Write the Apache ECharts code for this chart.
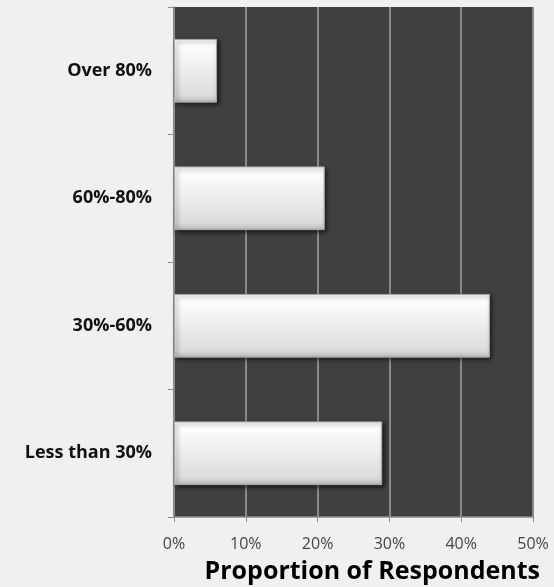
<!DOCTYPE html>
<html>
<head>
<meta charset="utf-8">
<script src="https://cdn.jsdelivr.net/npm/echarts@6/dist/echarts.min.js"></script>
<style>
  html, body { margin: 0; padding: 0; background: #f0f0f0; }
  #chart { width: 554px; height: 587px; }
</style>
</head>
<body>
<div id="chart"></div>
<script>
// Share of respondents in each range (bottom to top on the chart)
const categories = ['Less than 30%', '30%-60%', '60%-80%', 'Over 80%'];
const shares = [29, 44, 21, 6];
const axisTitle = 'Proportion of Respondents';

const chart = echarts.init(document.getElementById('chart'));

chart.setOption({
  backgroundColor: '#f0f0f0',
  animation: false,
  grid: {
    left: 174, top: 7, width: 359, height: 510,
    show: true, backgroundColor: '#404040', borderWidth: 0
  },
  xAxis: {
    type: 'value', min: 0, max: 50, interval: 10,
    axisLine: { show: true, lineStyle: { color: '#8c8c8c', width: 1.5 } },
    axisTick: { show: true, length: 5, lineStyle: { color: '#8c8c8c' } },
    splitLine: { show: true, lineStyle: { color: '#8a8a8a', width: 2 } },
    axisLabel: {
      formatter: '{value}%', color: '#444', fontFamily: 'Open Sans',
      fontSize: 16, margin: 19
    }
  },
  yAxis: {
    type: 'category', data: categories,
    axisLine: { show: true, lineStyle: { color: '#8c8c8c', width: 1.5 } },
    axisTick: { show: true, length: 6, lineStyle: { color: '#8c8c8c' } },
    axisLabel: {
      color: '#111', fontFamily: 'Open Sans', fontWeight: 'bold',
      fontSize: 18, margin: 22
    }
  },
  series: [{
    type: 'bar',
    data: shares,
    barWidth: '50%',
    itemStyle: {
      color: new echarts.graphic.LinearGradient(0, 0, 0, 1, [
        { offset: 0, color: '#ffffff' },
        { offset: 0.12, color: '#fcfcfc' },
        { offset: 0.5, color: '#ececec' },
        { offset: 0.88, color: '#dcdcdc' },
        { offset: 1, color: '#bdbdbd' }
      ]),
      borderColor: '#a8a8a8',
      borderWidth: 1,
      shadowColor: 'rgba(0,0,0,0.6)',
      shadowBlur: 4,
      shadowOffsetX: 2,
      shadowOffsetY: 2
    }
  }],
  graphic: [{
    type: 'text',
    right: 14, top: 559,
    style: {
      text: axisTitle,
      fill: '#000',
      font: 'bold 25px "Open Sans"'
    }
  }]
});
</script>
</body>
</html>
